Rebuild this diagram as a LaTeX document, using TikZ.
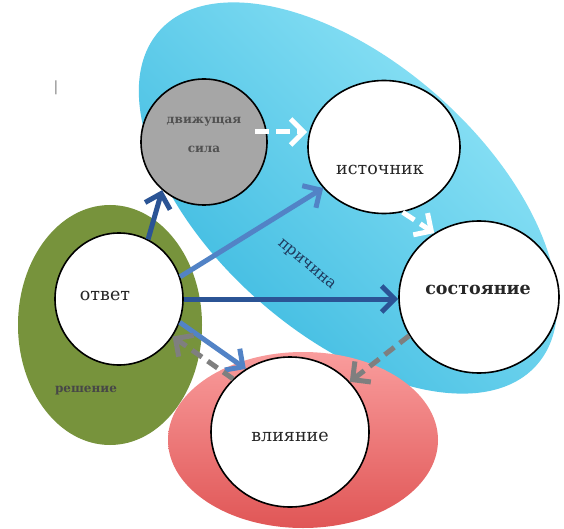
\documentclass[tikz,border=0pt]{standalone}
\usepackage{fontspec}
\setmainfont{DejaVu Serif}
\usetikzlibrary{arrows.meta,shapes.geometric,calc}
\definecolor{blueL}{HTML}{98E8F9}
\definecolor{blueD}{HTML}{30B4DD}
\definecolor{greenE}{HTML}{77933C}
\definecolor{redL}{HTML}{F99C9C}
\definecolor{redD}{HTML}{E05656}
\definecolor{grayC}{HTML}{A6A6A6}
\definecolor{darkA}{HTML}{2B5495}
\definecolor{midA}{HTML}{5283C6}
\definecolor{grayA}{HTML}{7F7F7F}
\definecolor{txtC}{HTML}{262626}
\definecolor{navyT}{HTML}{1F3A5E}
\begin{document}
\begin{tikzpicture}[x=1pt,y=-1pt,
  bub/.style={ellipse, draw=black, line width=1.6pt, fill=white, inner sep=0pt},
  lbl/.style={text=txtC, font=\fontsize{17.5}{20}\selectfont, inner sep=0pt},
  small/.style={text=txtC!85, font=\bfseries\fontsize{12}{14}\selectfont, inner sep=0pt},
  tipb/.style={-{Straight Barb[length=13pt,width=26pt]}},
  solidarr/.style={line width=5pt, tipb},
  grayarr/.style={line width=5pt, grayA, dash pattern=on 12pt off 7pt, tipb},
  whitearr/.style={line width=5pt, white, dash pattern=on 14pt off 7pt, tipb}]
\useasboundingbox (0,0) rectangle (564,529);
\fill[white] (0,0) rectangle (564,529);
% blue ellipse
\begin{scope}
  \clip[rotate around={-41.5:(348,198)}] (348,198) ellipse [x radius=252, y radius=136];
  \shade[top color=blueL, bottom color=blueD, shading angle=-45] (80,-10) rectangle (620,430);
\end{scope}
% green ellipse
\fill[greenE] (110,325) ellipse [x radius=92, y radius=120];
% red ellipse
\shade[top color=redL, bottom color=redD] (303,440) ellipse [x radius=135, y radius=88];
% circles
\node[bub, fill=grayC, minimum width=126pt, minimum height=126pt] (dvig) at (204,142) {};
\node[bub, minimum width=152pt, minimum height=133pt] (ist) at (384,147) {};
\node[bub, minimum width=160pt, minimum height=152pt] (sost) at (479,297) {};
\node[bub, minimum width=128pt, minimum height=132pt] (otvet) at (119,299) {};
\node[bub, minimum width=158pt, minimum height=150pt] (vliy) at (290,432) {};
% texts
\node[small, text=txtC!80] (t1) at (204,122) {движущая};
\node[small, text=txtC!80] (t2) at (204,149) {сила};
\node[lbl] (t3) at (380,170) {источник};
\node[lbl, font=\bfseries\fontsize{17.5}{20}\selectfont] (t4) at (478,290) {состояние};
\node[lbl] (t5) at (105,296) {ответ};
\node[lbl] (t6) at (290,437) {влияние};
\node[small] (t7) at (86,391) {решение};
\node[lbl, text=navyT, font=\fontsize{15.5}{18}\selectfont, rotate=-40] (t8) at (306,265) {причина};
\node[text=grayA, font=\fontsize{14}{14}\selectfont, inner sep=0pt] (cur) at (56,88) {|};
% connectors
\draw[solidarr, darkA] (otvet.64) -- (dvig.229);
\draw[solidarr, midA] (otvet.20) -- (ist.214);
\draw[solidarr, darkA] (otvet.east) -- (sost.west |- otvet.east);
\draw[solidarr, midA] (otvet.-21) -- (vliy.125);
\draw[grayarr] (vliy.137) -- (otvet.-35);
\draw[grayarr] (sost.209) -- (vliy.40);
\coordinate (w1) at ($(dvig.center)+(51,-10)$);
\draw[whitearr] (w1) -- (ist.west |- w1);
\draw[whitearr] (ist.-74) -- (sost.125);
\end{tikzpicture}
\end{document}
